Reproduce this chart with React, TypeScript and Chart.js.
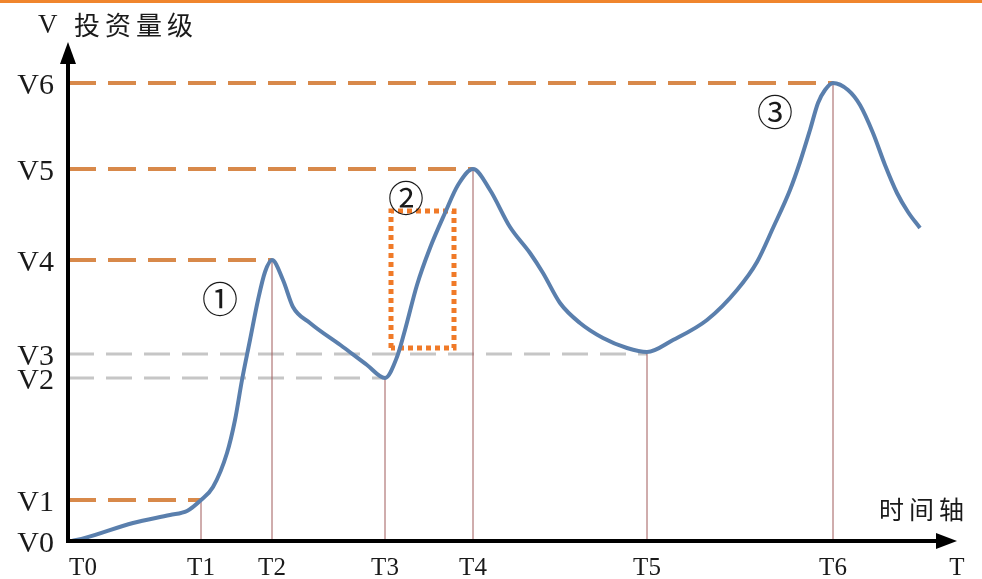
import React, { useEffect, useRef } from "react";
import { Chart, registerables } from "chart.js";

Chart.register(...registerables);

// ---- data (arbitrary units: time on x, investment level on y) ----
const T_LABELS = ["T0", "T1", "T2", "T3", "T4", "T5", "T6", "T"];
const T_VALUES = [0, 133, 204, 317, 405, 579, 765, 889];
const V_LABELS = ["V0", "V1", "V2", "V3", "V4", "V5", "V6"];
const V_VALUES = [0, 41, 163, 187, 281, 372, 458];

const CURVE_X = [4, 17, 65, 102, 119, 133, 145, 159, 167, 174, 182, 190, 197, 204, 215, 225, 242, 275, 299, 317, 329, 337, 349, 362, 377, 390, 405, 422, 442, 462, 475, 492, 512, 535, 559, 579, 605, 639, 669, 689, 705, 722, 732, 742, 750, 757, 765, 780, 792, 805, 817, 829, 840, 852];
const CURVE_Y = [0, 3, 18, 26, 30, 41, 54, 88, 121, 161, 201, 241, 269, 281, 261, 234, 218, 194, 176, 163, 184, 211, 256, 293, 328, 356, 372, 351, 314, 288, 268, 238, 218, 203, 193, 189, 201, 221, 251, 279, 313, 351, 379, 411, 438, 451, 458, 451, 436, 408, 376, 348, 329, 313];

// key points: T index -> V index reached by the curve there
const KEY_T = [1, 2, 3, 4, 5, 6];
const KEY_V = [1, 4, 2, 5, 3, 6];
const ORANGE_LEVELS = [1, 4, 5, 6];

const BOX_X = [323, 386];
const BOX_Y = [193, 330];

const MARKS = ["①", "②", "③"];
const MARK_X = [152, 338, 707];
const MARK_Y = [242, 343, 429];

const X_MAX = 889;
const Y_MAX = 499;

const SERIF = "'Liberation Serif', 'DejaVu Serif', serif";
const CJK = "'Noto Sans CJK SC', sans-serif";

export default function App() {
  const ref = useRef<HTMLCanvasElement | null>(null);

  useEffect(() => {
    if (!ref.current) return;

    const datasets: any[] = [];
    datasets.push({
      label: "curve",
      data: CURVE_X.map((x, i) => ({ x, y: CURVE_Y[i] })),
      showLine: true,
      borderColor: "#5A7FAD",
      borderWidth: 4,
      pointRadius: 0,
      cubicInterpolationMode: "monotone",
      order: 0,
    });
    KEY_T.forEach((ti, k) => {
      const vi = KEY_V[k];
      const orange = ORANGE_LEVELS.includes(vi);
      datasets.push({
        label: "h" + k,
        data: [
          { x: 0, y: V_VALUES[vi] },
          { x: T_VALUES[ti], y: V_VALUES[vi] },
        ],
        showLine: true,
        borderColor: orange ? "#D8894A" : "#C6C6C6",
        borderWidth: orange ? 4 : 3,
        borderDash: orange ? [28, 12] : [26, 12],
        pointRadius: 0,
        order: 3,
      });
      datasets.push({
        label: "v" + k,
        data: [
          { x: T_VALUES[ti], y: 0 },
          { x: T_VALUES[ti], y: V_VALUES[vi] },
        ],
        showLine: true,
        borderColor: "#A05A5A",
        borderWidth: 1,
        pointRadius: 0,
        order: 2,
      });
    });
    datasets.push({
      label: "box",
      data: [
        { x: BOX_X[0], y: BOX_Y[0] },
        { x: BOX_X[0], y: BOX_Y[1] },
        { x: BOX_X[1], y: BOX_Y[1] },
        { x: BOX_X[1], y: BOX_Y[0] },
        { x: BOX_X[0], y: BOX_Y[0] },
      ],
      showLine: true,
      borderColor: "#F07A28",
      borderWidth: 5,
      borderDash: [5, 4],
      borderCapStyle: "butt",
      pointRadius: 0,
      order: 1,
    });

    const decor = {
      id: "decor",
      beforeDraw(chart: any) {
        const ctx = chart.ctx;
        ctx.save();
        ctx.fillStyle = "#FFFFFF";
        ctx.fillRect(0, 0, chart.width, chart.height);
        ctx.fillStyle = "#F0852D";
        ctx.fillRect(0, 0, chart.width, 3);
        ctx.restore();
      },
      afterDraw(chart: any) {
        const ctx = chart.ctx;
        const xs = chart.scales.x;
        const ys = chart.scales.y;
        const x0 = xs.getPixelForValue(0);
        const y0 = ys.getPixelForValue(0);
        const xEnd = xs.getPixelForValue(X_MAX);
        const yEnd = ys.getPixelForValue(Y_MAX);
        ctx.save();
        // axes
        ctx.strokeStyle = "#000";
        ctx.fillStyle = "#000";
        ctx.lineWidth = 4;
        ctx.setLineDash([]);
        ctx.beginPath();
        ctx.moveTo(x0, y0 + 2);
        ctx.lineTo(x0, yEnd + 16);
        ctx.moveTo(x0 - 2, y0);
        ctx.lineTo(xEnd - 16, y0);
        ctx.stroke();
        ctx.beginPath();
        ctx.moveTo(x0, yEnd);
        ctx.lineTo(x0 - 8, yEnd + 22);
        ctx.lineTo(x0 + 8, yEnd + 22);
        ctx.closePath();
        ctx.fill();
        ctx.beginPath();
        ctx.moveTo(xEnd, y0);
        ctx.lineTo(xEnd - 21, y0 - 8);
        ctx.lineTo(xEnd - 21, y0 + 8);
        ctx.closePath();
        ctx.fill();

        // V labels
        ctx.fillStyle = "#1a1a1a";
        ctx.font = `30px ${SERIF}`;
        ctx.textAlign = "right";
        ctx.textBaseline = "alphabetic";
        V_LABELS.forEach((l, i) => {
          ctx.fillText(l, x0 - 14, ys.getPixelForValue(V_VALUES[i]) + 11);
        });
        // T labels
        ctx.font = `25px ${SERIF}`;
        ctx.textAlign = "center";
        T_LABELS.forEach((l, i) => {
          const off = i === 0 ? 15 : 0;
          ctx.fillText(l, xs.getPixelForValue(T_VALUES[i]) + off, y0 + 34);
        });
        // axis titles
        ctx.textAlign = "left";
        ctx.font = `27px ${SERIF}`;
        ctx.fillText("V", x0 - 30, yEnd - 9);
        ctx.font = `26px ${CJK}`;
        (ctx as any).letterSpacing = "5px";
        ctx.fillText("投资量级", x0 + 6, yEnd - 7);
        ctx.font = `25px ${CJK}`;
        ctx.fillText("时间轴", xEnd - 78, y0 - 22);
        (ctx as any).letterSpacing = "0px";
        // circled marks
        ctx.font = `36px ${CJK}`;
        ctx.textAlign = "center";
        ctx.textBaseline = "middle";
        MARKS.forEach((m, i) => {
          ctx.fillText(m, xs.getPixelForValue(MARK_X[i]), ys.getPixelForValue(MARK_Y[i]));
        });
        ctx.restore();
      },
    };

    const chart = new Chart(ref.current, {
      type: "scatter",
      data: { datasets },
      options: {
        animation: false,
        responsive: true,
        maintainAspectRatio: false,
        devicePixelRatio: 1,
        layout: { padding: { left: 68, right: 982 - 957, top: 42, bottom: 579 - 541 } },
        plugins: { legend: { display: false }, tooltip: { enabled: false } },
        scales: {
          x: { type: "linear", min: 0, max: X_MAX, display: false },
          y: { type: "linear", min: 0, max: Y_MAX, display: false },
        },
      },
      plugins: [decor],
    });
    return () => chart.destroy();
  }, []);

  return (
    <div style={{ position: "absolute", left: 0, top: 0, width: 982, height: 579, background: "#fff" }}>
      <canvas ref={ref} />
    </div>
  );
}
